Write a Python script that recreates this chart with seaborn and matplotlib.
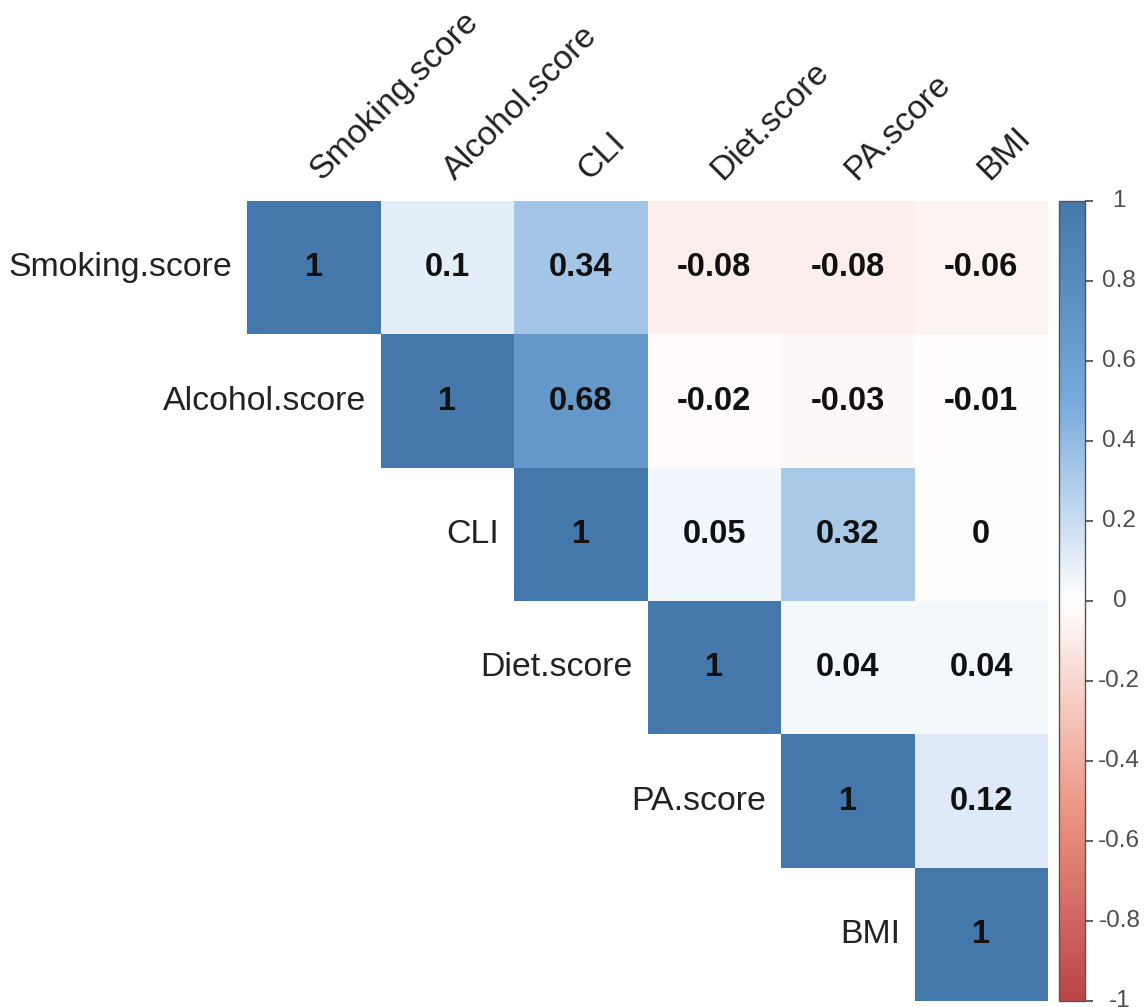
import numpy as np
import pandas as pd
import matplotlib
matplotlib.use("Agg")
import matplotlib.pyplot as plt
from matplotlib.colors import LinearSegmentedColormap
from matplotlib.transforms import blended_transform_factory
import seaborn as sns

# Correlation matrix of lifestyle scores (upper triangle shown)
variables = ["Smoking.score", "Alcohol.score", "CLI", "Diet.score", "PA.score", "BMI"]
row_smoking = [1.00, 0.10, 0.34, -0.08, -0.08, -0.06]
row_alcohol = [0.10, 1.00, 0.68, -0.02, -0.03, -0.01]
row_cli = [0.34, 0.68, 1.00, 0.05, 0.32, 0.00]
row_diet = [-0.08, -0.02, 0.05, 1.00, 0.04, 0.04]
row_pa = [-0.08, -0.03, 0.32, 0.04, 1.00, 0.12]
row_bmi = [-0.06, -0.01, 0.00, 0.04, 0.12, 1.00]
cbar_ticks = [-1, -0.8, -0.6, -0.4, -0.2, 0, 0.2, 0.4, 0.6, 0.8, 1]

corr = pd.DataFrame([row_smoking, row_alcohol, row_cli, row_diet, row_pa, row_bmi],
                    index=variables, columns=variables)
mask = np.tril(np.ones(corr.shape, dtype=bool), k=-1)
labels = corr.map(lambda v: f"{v:g}")

sns.set_theme(style="white")
plt.rcParams["font.family"] = ["Liberation Sans", "DejaVu Sans"]

cmap = LinearSegmentedColormap.from_list(
    "corr", ["#BB4444", "#EE9988", "#FFFFFF", "#77AADD", "#4477AA"], N=256)

W, H = 1145, 1007
fig = plt.figure(figsize=(W / 100, H / 100), dpi=100)
ax = fig.add_axes([247 / W, 1 - 1001 / H, (1048 - 247) / W, (1001 - 201) / H])
cax = fig.add_axes([1059 / W, 1 - 1001 / H, (1085 - 1059) / W, (1001 - 201) / H])

sns.heatmap(corr, mask=mask, cmap=cmap, vmin=-1, vmax=1, annot=labels, fmt="",
            annot_kws={"fontsize": 23.5, "fontweight": "bold", "color": "#111111"},
            cbar_ax=cax, linewidths=0, square=False, ax=ax)

ax.set_xticks([])
ax.set_yticks([])
ax.set_xlabel("")
ax.set_ylabel("")
for s in ax.spines.values():
    s.set_visible(False)

# Row labels beside the diagonal cells
for i, name in enumerate(variables):
    ax.text(i - 0.11, i + 0.5, name, ha="right", va="center",
            fontsize=24.4, color="#222222", clip_on=False)
# Column labels above the grid, rotated
for j, name in enumerate(variables):
    ax.text(j + 0.56, -0.15, name, ha="left", va="baseline", rotation=45,
            rotation_mode="anchor", fontsize=24.4, color="#222222", clip_on=False)

# Colour bar with centred tick labels
cbar = ax.collections[0].colorbar
cbar.set_ticks(cbar_ticks)
cbar.set_ticklabels([])
cax.tick_params(axis="y", right=True, left=False, length=6, width=1.2,
                color="#444444", labelsize=0, pad=0)
cbar.outline.set_visible(True)
cbar.outline.set_edgecolor("#555555")
cbar.outline.set_linewidth(1.0)
trans = blended_transform_factory(cax.transAxes, cax.transData)
for t in cbar_ticks:
    cax.text(2.32, t, f"{t:g}", transform=trans, ha="center", va="center",
             fontsize=17.5, color="#4d4d4d", clip_on=False)

fig.savefig("out.png", dpi=100)
